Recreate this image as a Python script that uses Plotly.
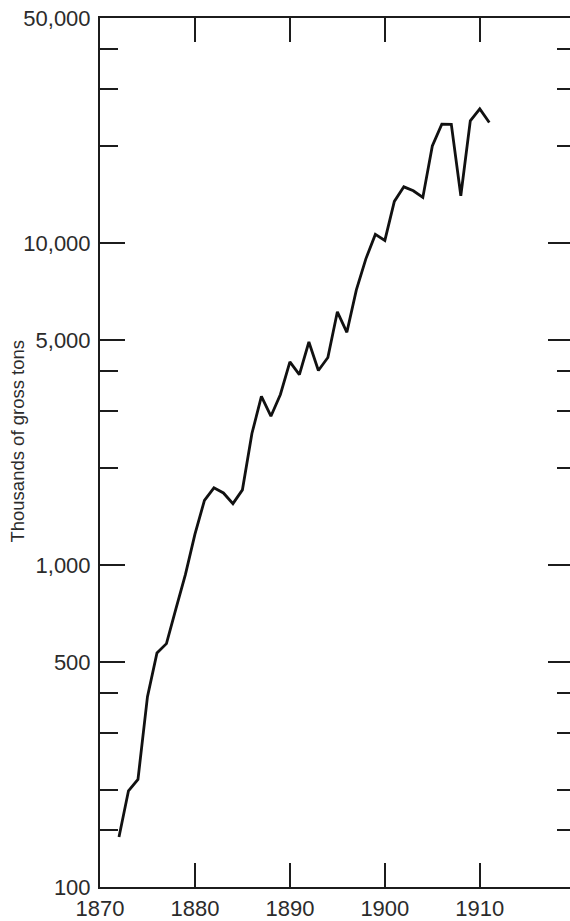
import plotly.graph_objects as go

# Annual output, thousands of gross tons
years = list(range(1872, 1912))
tons = [143, 199, 216, 390, 533, 570, 732, 935, 1247, 1588,
        1737, 1674, 1551, 1712, 2562, 3339, 2899, 3386, 4277, 3904,
        4928, 4020, 4412, 6115, 5282, 7157, 8932, 10640, 10188, 13474,
        14947, 14535, 13860, 20024, 23398, 23363, 14023, 23955, 26095, 23676]

x_ticks = [1870, 1880, 1890, 1900, 1910]
y_major = [100, 500, 1000, 5000, 10000, 50000]
y_major_text = ["100", "500", "1,000", "5,000", "10,000", "50,000"]
y_minor = [150, 200, 300, 400, 2000, 3000, 4000, 20000, 30000, 40000]

ink = "#1c1c1c"
family = "Liberation Sans, Arial, sans-serif"
tick_font = dict(family=family, size=22, color="#2b2b2b")

fig = go.Figure()
fig.add_trace(go.Scatter(x=years, y=tons, mode="lines",
                         line=dict(color="#111111", width=2.8),
                         showlegend=False, hoverinfo="x+y"))
# invisible copy bound to the right-hand axis so its ticks are drawn
fig.add_trace(go.Scatter(x=years, y=tons, yaxis="y2", mode="lines",
                         line=dict(width=0), opacity=0,
                         showlegend=False, hoverinfo="skip"))

yrange = [2, 4.69897]

fig.update_layout(
    width=570, height=921,
    margin=dict(l=100, r=0, t=18, b=30),
    paper_bgcolor="white", plot_bgcolor="white",
    font=tick_font,
    xaxis=dict(range=[1870, 1919.5], tickvals=x_ticks, tickfont=tick_font,
               ticks="inside", ticklen=24, tickwidth=2, tickcolor=ink,
               showline=True, linecolor=ink, linewidth=2, mirror="ticks",
               showgrid=False, zeroline=False, ticklabelstandoff=1),
    yaxis=dict(type="log", range=yrange, tickfont=tick_font,
               tickvals=y_major, ticktext=y_major_text,
               ticks="inside", ticklen=25, tickwidth=2, tickcolor=ink,
               minor=dict(tickvals=y_minor, ticks="inside", ticklen=18,
                          tickwidth=2, tickcolor=ink, showgrid=False),
               showline=True, linecolor=ink, linewidth=2,
               showgrid=False, zeroline=False, ticklabelstandoff=3),
    yaxis2=dict(type="log", range=yrange, overlaying="y", side="right",
                tickvals=y_major, showticklabels=False,
                ticks="inside", ticklen=22, tickwidth=2, tickcolor=ink,
                minor=dict(tickvals=y_minor, ticks="inside", ticklen=13,
                           tickwidth=2, tickcolor=ink, showgrid=False),
                showline=False, showgrid=False, zeroline=False),
    annotations=[dict(text="Thousands of gross tons", textangle=-90,
                      xref="paper", yref="paper",
                      x=(17.5 - 100) / 470, y=(891 - 443) / 873,
                      xanchor="center", yanchor="middle", showarrow=False,
                      font=dict(family=family, size=18.5, color="#2b2b2b"))],
)

fig.write_html("out.html")
